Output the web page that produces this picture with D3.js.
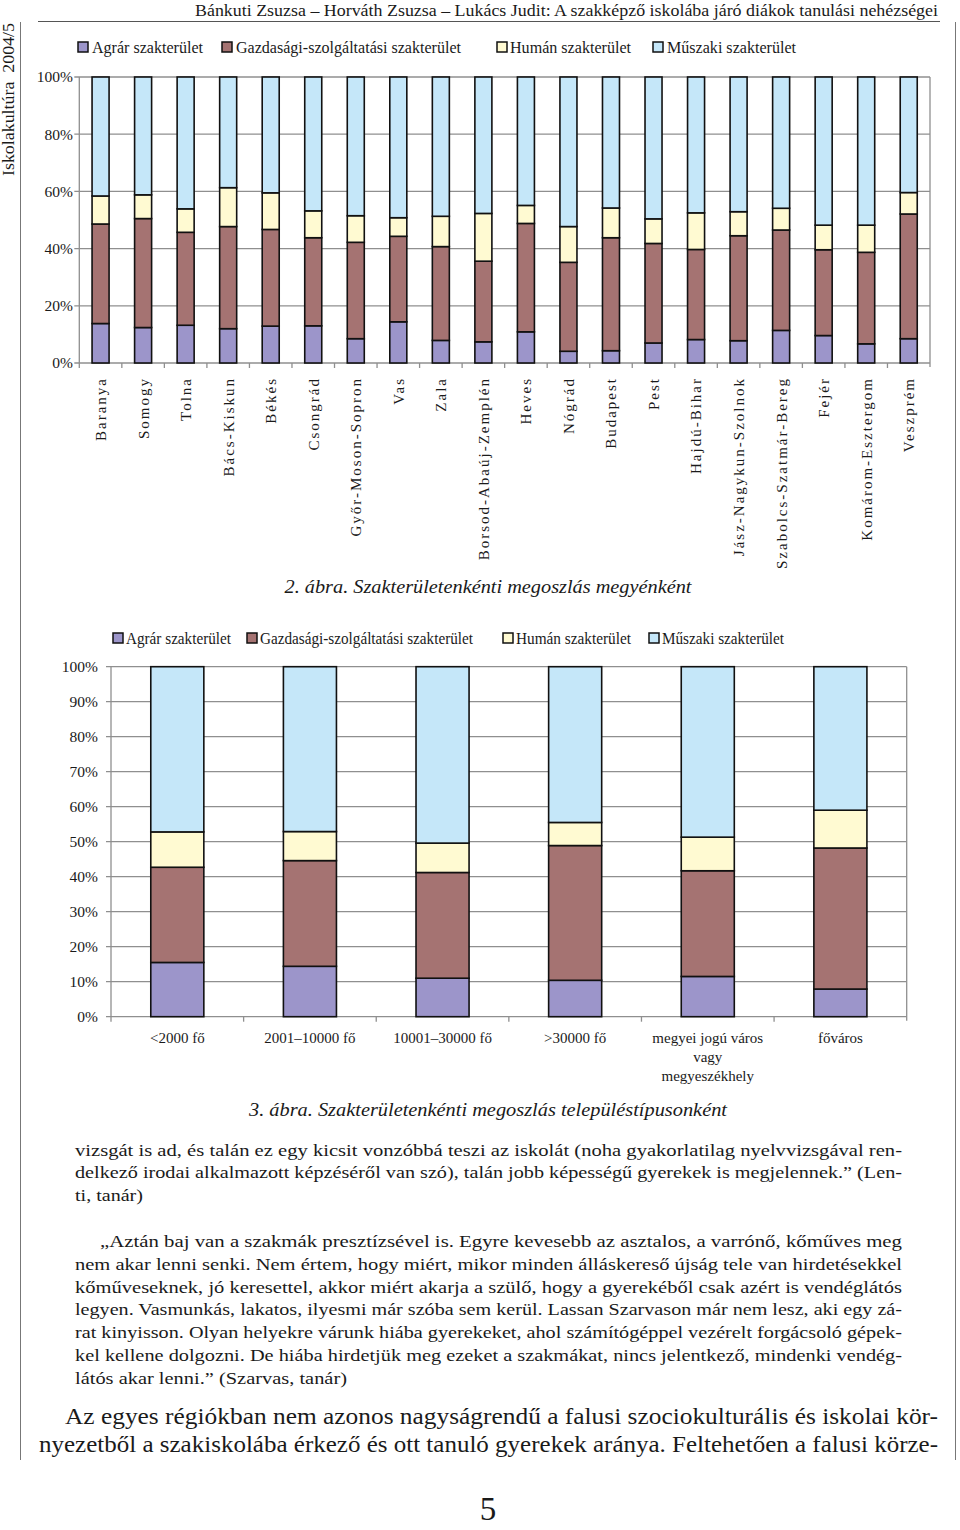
<!DOCTYPE html>
<html><head><meta charset="utf-8">
<script src="https://cdn.jsdelivr.net/npm/d3@7"></script>
<style>
html,body{margin:0;padding:0;background:#fff;}
svg text{font-family:"Liberation Serif","Times New Roman",Tinos,serif;fill:#1a1a1a;}
</style></head>
<body><svg id="page" width="960" height="1530" font-family="Liberation Serif, Times New Roman, serif"></svg>
<script>
// ---------- DATA ----------
const seriesNames = ["Agrár szakterület", "Gazdasági-szolgáltatási szakterület", "Humán szakterület", "Műszaki szakterület"];
const seriesKeys = ["agrar", "gazd", "human", "muszaki"];

const counties = ["Baranya","Somogy","Tolna","Bács-Kiskun","Békés","Csongrád","Győr-Moson-Sopron","Vas","Zala","Borsod-Abaúj-Zemplén","Heves","Nógrád","Budapest","Pest","Hajdú-Bihar","Jász-Nagykun-Szolnok","Szabolcs-Szatmár-Bereg","Fejér","Komárom-Esztergom","Veszprém"];
const agrar1   = [13.8, 12.4, 13.2, 12.0, 12.9, 13.0,  8.5, 14.4,  7.9,  7.4, 10.9,  4.1,  4.3,  7.0,  8.2,  7.8, 11.4,  9.6,  6.7,  8.5];
const gazd1    = [34.8, 38.1, 32.5, 35.7, 33.8, 30.8, 33.7, 29.9, 32.8, 28.2, 37.9, 31.1, 39.5, 34.8, 31.5, 36.7, 35.1, 30.0, 32.0, 43.6];
const human1   = [ 9.8,  8.3,  8.2, 13.6, 12.8,  9.4,  9.3,  6.5, 10.6, 16.7,  6.3, 12.5, 10.4,  8.6, 12.8,  8.4,  7.6,  8.6,  9.5,  7.5];
const muszaki1 = [41.6, 41.2, 46.1, 38.7, 40.5, 46.8, 48.5, 49.2, 48.7, 47.7, 44.9, 52.3, 45.8, 49.6, 47.5, 47.1, 45.9, 51.8, 51.8, 40.4];
const yTicks1  = [0, 20, 40, 60, 80, 100];

const types = ["<2000 fő", "2001–10000 fő", "10001–30000 fő", ">30000 fő", "megyei jogú város|vagy|megyeszékhely", "főváros"];
const agrar2   = [15.5, 14.4, 11.0, 10.4, 11.5,  7.9];
const gazd2    = [27.2, 30.2, 30.2, 38.5, 30.2, 40.3];
const human2   = [10.1,  8.3,  8.4,  6.6,  9.6, 10.8];
const muszaki2 = [47.2, 47.1, 50.4, 44.5, 48.7, 41.0];
const yTicks2  = [0, 10, 20, 30, 40, 50, 60, 70, 80, 90, 100];

const headerText = "Bánkuti Zsuzsa – Horváth Zsuzsa – Lukács Judit: A szakképző iskolába járó diákok tanulási nehézségei";
const sideText = "Iskolakultúra\u00a0\u00a02004/5";
const caption1 = "2. ábra. Szakterületenkénti megoszlás megyénként";
const caption2 = "3. ábra. Szakterületenkénti megoszlás településtípusonként";
const para1 = [
 "vizsgát is ad, és talán ez egy kicsit vonzóbbá teszi az iskolát (noha gyakorlatilag nyelvvizsgával ren-",
 "delkező irodai alkalmazott képzéséről van szó), talán jobb képességű gyerekek is megjelennek.” (Len-",
 "ti, tanár)"];
const para2 = [
 "„Aztán baj van a szakmák presztízsével is. Egyre kevesebb az asztalos, a varrónő, kőműves meg",
 "nem akar lenni senki. Nem értem, hogy miért, mikor minden álláskereső újság tele van hirdetésekkel",
 "kőműveseknek, jó keresettel, akkor miért akarja a szülő, hogy a gyerekéből csak azért is vendéglátós",
 "legyen. Vasmunkás, lakatos, ilyesmi már szóba sem kerül. Lassan Szarvason már nem lesz, aki egy zá-",
 "rat kinyisson. Olyan helyekre várunk hiába gyerekeket, ahol számítógéppel vezérelt forgácsoló gépek-",
 "kel kellene dolgozni. De hiába hirdetjük meg ezeket a szakmákat, nincs jelentkező, mindenki vendég-",
 "látós akar lenni.” (Szarvas, tanár)"];
const para3 = [
 "Az egyes régiókban nem azonos nagyságrendű a falusi szociokulturális és iskolai kör-",
 "nyezetből a szakiskolába érkező és ott tanuló gyerekek aránya. Feltehetően a falusi körze-"];
const pageNumber = "5";

// ---------- STYLE ----------
const colors = {agrar:"#9c95ca", gazd:"#a57372", human:"#fffad2", muszaki:"#c5e7f9"};
const gridColor = "#8f8f8f";

const svg = d3.select("#page");

// frame lines
svg.append("line").attr("x1",38).attr("x2",940).attr("y1",21.5).attr("y2",21.5).attr("stroke","#555").attr("stroke-width",1.2);
svg.append("line").attr("x1",20.5).attr("x2",20.5).attr("y1",22).attr("y2",1460).attr("stroke","#777").attr("stroke-width",1);
svg.append("line").attr("x1",955.5).attr("x2",955.5).attr("y1",22).attr("y2",1460).attr("stroke","#777").attr("stroke-width",1);

svg.append("text").attr("x",938).attr("y",15.5).attr("text-anchor","end")
  .attr("font-size",17).attr("textLength",743).attr("lengthAdjust","spacingAndGlyphs").text(headerText);
svg.append("text").attr("transform","translate(14,176) rotate(-90)").attr("font-size",16)
  .attr("textLength",153).attr("lengthAdjust","spacingAndGlyphs").text(sideText);

function legend(y, items) {
  const g = svg.append("g");
  items.forEach((it, i) => {
    g.append("rect").attr("x", it.sx).attr("y", y - 5).attr("width", 10).attr("height", 10)
      .attr("fill", colors[seriesKeys[i]]).attr("stroke", "#111").attr("stroke-width", 1.5);
    g.append("text").attr("x", it.tx).attr("y", y + 5.5).attr("font-size", 16)
      .attr("textLength", it.w).attr("lengthAdjust", "spacingAndGlyphs").text(seriesNames[i]);
  });
}

function stackedChart(opts) {
  const {cats, vals, x0, x1, yBottom, yTop, ticks, tickFmt, labelX} = opts;
  const rows = cats.map((c, i) => ({cat: c, agrar: vals[0][i], gazd: vals[1][i], human: vals[2][i], muszaki: vals[3][i]}));
  const x = d3.scaleBand().domain(cats).range([x0, x1]).paddingInner(0.6).paddingOuter(0.3);
  const y = d3.scaleLinear().domain([0, 100]).range([yBottom, yTop]);
  const g = svg.append("g");
  g.append("g").selectAll("line").data(ticks).join("line")
    .attr("x1", x0 - 5).attr("x2", x1).attr("y1", d => y(d)).attr("y2", d => y(d))
    .attr("stroke", gridColor).attr("stroke-width", 1.3);
  g.append("line").attr("x1", x0).attr("x2", x0).attr("y1", yTop).attr("y2", yBottom).attr("stroke", gridColor).attr("stroke-width", 1.3);
  g.append("line").attr("x1", x1).attr("x2", x1).attr("y1", yTop).attr("y2", yBottom + 4).attr("stroke", gridColor).attr("stroke-width", 1.3);
  g.append("g").selectAll("text").data(ticks).join("text")
    .attr("x", labelX).attr("y", d => y(d)).attr("dy", "0.35em").attr("text-anchor", "end")
    .attr("font-size", 15.5).text(d => tickFmt(d));
  const bounds = cats.map(c => x(c) - x.step() * 0.3);
  g.append("g").selectAll("line").data(bounds).join("line")
    .attr("x1", d => d).attr("x2", d => d).attr("y1", yBottom).attr("y2", yBottom + 5)
    .attr("stroke", gridColor).attr("stroke-width", 1.3);
  const stack = d3.stack().keys(seriesKeys)(rows);
  g.append("g").selectAll("g").data(stack).join("g").attr("fill", s => colors[s.key])
    .selectAll("rect").data(s => s).join("rect")
    .attr("x", d => x(d.data.cat)).attr("width", x.bandwidth())
    .attr("y", d => y(d[1])).attr("height", d => y(d[0]) - y(d[1]))
    .attr("stroke", "#111").attr("stroke-width", 1.6);
  return {x, y};
}

// ---------- CHART 1 ----------
legend(47, [{sx:78, tx:92, w:111}, {sx:222, tx:236, w:225}, {sx:497, tx:510, w:121}, {sx:653, tx:667, w:129}]);
const c1 = stackedChart({cats: counties, vals: [agrar1, gazd1, human1, muszaki1],
  x0: 79.3, x1: 930, yBottom: 363, yTop: 77, ticks: yTicks1, tickFmt: d => d + "%", labelX: 73});
svg.append("g").selectAll("text").data(counties).join("text")
  .attr("transform", d => `translate(${c1.x(d) + c1.x.bandwidth() / 2},377) rotate(-90)`)
  .attr("dy", "0.36em").attr("text-anchor", "end").attr("font-size", 15)
  .attr("letter-spacing", 2).text(d => d);
svg.append("text").attr("x", 488).attr("y", 593).attr("text-anchor", "middle").attr("font-size", 19)
  .attr("font-style", "italic").attr("textLength", 407).attr("lengthAdjust", "spacingAndGlyphs").text(caption1);

// ---------- CHART 2 ----------
legend(638, [{sx:113, tx:126, w:105}, {sx:247, tx:260, w:213}, {sx:503, tx:516, w:115}, {sx:649, tx:662, w:122}]);
const c2 = stackedChart({cats: types, vals: [agrar2, gazd2, human2, muszaki2],
  x0: 111, x1: 906.7, yBottom: 1016.7, yTop: 666.7, ticks: yTicks2, tickFmt: d => d + "%", labelX: 98});
const xl = svg.append("g").selectAll("text").data(types).join("text")
  .attr("x", d => c2.x(d) + c2.x.bandwidth() / 2).attr("y", 1043).attr("text-anchor", "middle").attr("font-size", 15);
xl.selectAll("tspan").data(d => d.split("|").map(s => ({s, cx: c2.x(d) + c2.x.bandwidth() / 2}))).join("tspan")
  .attr("x", d => d.cx).attr("dy", (d, i) => i === 0 ? 0 : 19).text(d => d.s);
svg.append("text").attr("x", 488).attr("y", 1116).attr("text-anchor", "middle").attr("font-size", 19)
  .attr("font-style", "italic").attr("textLength", 478).attr("lengthAdjust", "spacingAndGlyphs").text(caption2);

// ---------- BODY TEXT ----------
function para(lines, specs, size) {
  lines.forEach((t, i) => {
    const s = specs[i];
    svg.append("text").attr("x", s[0]).attr("y", s[2]).attr("font-size", size)
      .attr("textLength", s[1] - s[0]).attr("lengthAdjust", "spacingAndGlyphs").text(t);
  });
}
para(para1, [[75, 902, 1156], [75, 902, 1178], [75, 143, 1201]], 17.5);
para(para2, [[100, 902, 1247], [75, 902, 1270], [75, 902, 1293], [75, 902, 1315], [75, 902, 1338], [75, 902, 1361], [75, 347, 1384]], 17.5);
para(para3, [[65, 938, 1424], [39, 938, 1452]], 23);
svg.append("text").attr("x", 488).attr("y", 1520).attr("text-anchor", "middle").attr("font-size", 33).text(pageNumber);
</script></body></html>
